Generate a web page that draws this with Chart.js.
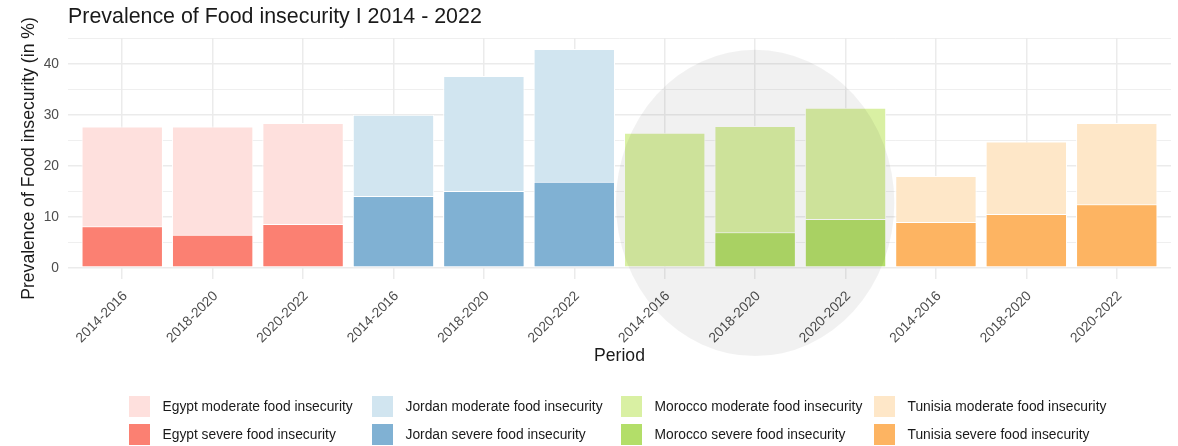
<!DOCTYPE html>
<html>
<head>
<meta charset="utf-8">
<title>Prevalence of Food insecurity</title>
<script src="https://cdn.jsdelivr.net/npm/chart.js@4.4.0/dist/chart.umd.min.js"></script>
<style>
    body { margin: 0; background: #fff; font-family: "Liberation Sans", Arial, sans-serif; }
    #wrap { position: relative; width: 1178px; height: 446px; }
    #legend .item { position: absolute; height: 23px; display: flex; align-items: center; font-size: 13.8px; color: #1a1a1a; white-space: nowrap; }
    #legend .box { width: 23px; height: 23px; margin-right: 11.5px; border: 1px solid #fff; box-sizing: border-box; }
</style>
</head>
<body>
<div id="wrap">
    <canvas id="chart" width="1178" height="446"></canvas>
    <div id="legend"></div>
</div>
<script>
// values
const periods = ['2014-2016', '2018-2020', '2020-2022'];
const countries = ['Egypt', 'Jordan', 'Morocco', 'Tunisia'];
const egyptModerate = [27.7, 27.7, 28.4];
const egyptSevere = [8.2, 6.5, 8.6];
const jordanModerate = [30.0, 37.6, 42.9];
const jordanSevere = [14.1, 15.1, 16.9];
const moroccoModerate = [26.5, 27.8, 31.4];
const moroccoSevere = [null, 7.0, 9.6];
const tunisiaModerate = [18.0, 24.8, 28.4];
const tunisiaSevere = [9.0, 10.6, 12.5];
const yTickLabels = [0, 10, 20, 30, 40];

const moderate = [egyptModerate, jordanModerate, moroccoModerate, tunisiaModerate];
const severe = [egyptSevere, jordanSevere, moroccoSevere, tunisiaSevere];
const lightColors = ['#fee0dd', '#d1e5f0', '#d9f0a3', '#fee7c8'];
const darkColors = ['#fb8072', '#80b1d3', '#b3de69', '#fdb462'];

Chart.defaults.font.family = '"Liberation Sans", Arial, sans-serif';

function points(values, c) {
    return values.map((v, p) => ({ x: c * periods.length + p, y: v }));
}

// severe first so it is drawn over the moderate bar
const datasets = [];
countries.forEach((country, c) => {
    datasets.push({
        label: country + ' severe food insecurity',
        data: points(severe[c], c),
        backgroundColor: darkColors[c],
        order: 0
    });
});
countries.forEach((country, c) => {
    datasets.push({
        label: country + ' moderate food insecurity',
        data: points(moderate[c], c),
        backgroundColor: lightColors[c],
        order: 1
    });
});

// grey circle behind the Morocco group
const highlight = {
    id: 'highlight',
    afterDatasetsDraw(chart) {
        const { ctx, scales: { x, y } } = chart;
        const cx = x.getPixelForValue(7);
        const cy = y.getPixelForValue(12.75);
        const rx = Math.abs(x.getPixelForValue(8.54) - cx);
        const ry = Math.abs(y.getPixelForValue(42.75) - cy);
        ctx.save();
        ctx.fillStyle = 'rgba(0,0,0,0.055)';
        ctx.beginPath();
        ctx.ellipse(cx, cy, rx, ry, 0, 0, Math.PI * 2);
        ctx.fill();
        ctx.restore();
    }
};

new Chart(document.getElementById('chart').getContext('2d'), {
    type: 'bar',
    data: { datasets: datasets },
    options: {
        responsive: false,
        animation: false,
        layout: { padding: { left: 0, right: 7, top: 0, bottom: 79 } },
        datasets: {
            bar: {
                categoryPercentage: 0.9,
                barPercentage: 1,
                borderColor: '#ffffff',
                borderWidth: 1,
                borderSkipped: false
            }
        },
        plugins: {
            legend: { display: false },
            tooltip: { enabled: false },
            title: {
                display: true,
                text: 'Prevalence of Food insecurity I 2014 - 2022',
                align: 'start',
                fullSize: false,
                color: '#1a1a1a',
                font: { size: 21.4, weight: 'normal' },
                padding: { top: 4, bottom: 8.3 }
            }
        },
        scales: {
            x: {
                type: 'linear',
                min: -0.6,
                max: 11.6,
                offset: false,
                stacked: true,
                ticks: {
                    stepSize: 1,
                    includeBounds: false,
                    autoSkip: false,
                    maxRotation: 45,
                    minRotation: 45,
                    padding: 9,
                    labelOffset: 3,
                    color: '#4d4d4d',
                    font: { size: 13.8 },
                    callback: v => periods[v % periods.length]
                },
                grid: { color: '#ebebeb', lineWidth: 1.5, drawTicks: false, offset: false },
                border: { display: false },
                title: { display: true, text: 'Period', color: '#1a1a1a', font: { size: 17.6 }, padding: 0 },
                afterFit: s => { s.height = 88; }
            },
            y: {
                min: -2.15,
                max: 45.05,
                ticks: {
                    stepSize: 5,
                    includeBounds: false,
                    padding: 9,
                    color: '#4d4d4d',
                    font: { size: 13.8 },
                    callback: v => yTickLabels.includes(v) ? v : ''
                },
                grid: {
                    color: '#ebebeb',
                    lineWidth: c => yTickLabels.includes(c.tick.value) ? 1.5 : 0.8,
                    drawTicks: false
                },
                border: { display: false },
                title: {
                    display: true,
                    text: 'Prevalence of Food insecurity (in %)',
                    color: '#1a1a1a',
                    font: { size: 17.6 },
                    padding: { top: 19, bottom: 0 }
                },
                afterFit: s => { s.width = 68; }
            }
        }
    },
    plugins: [highlight]
});

// legend: one column per country, moderate on top and severe below
const legendCols = [128, 371, 620, 873];
const legendRows = [395, 423];
const legend = document.getElementById('legend');
countries.forEach((country, c) => {
    [lightColors[c], darkColors[c]].forEach((color, r) => {
        const kind = r === 0 ? 'moderate' : 'severe';
        const item = document.createElement('div');
        item.className = 'item';
        item.style.left = legendCols[c] + 'px';
        item.style.top = legendRows[r] + 'px';
        item.innerHTML = `<span class="box" style="background:${color}"></span>${country} ${kind} food insecurity`;
        legend.appendChild(item);
    });
});
</script>
</body>
</html>
